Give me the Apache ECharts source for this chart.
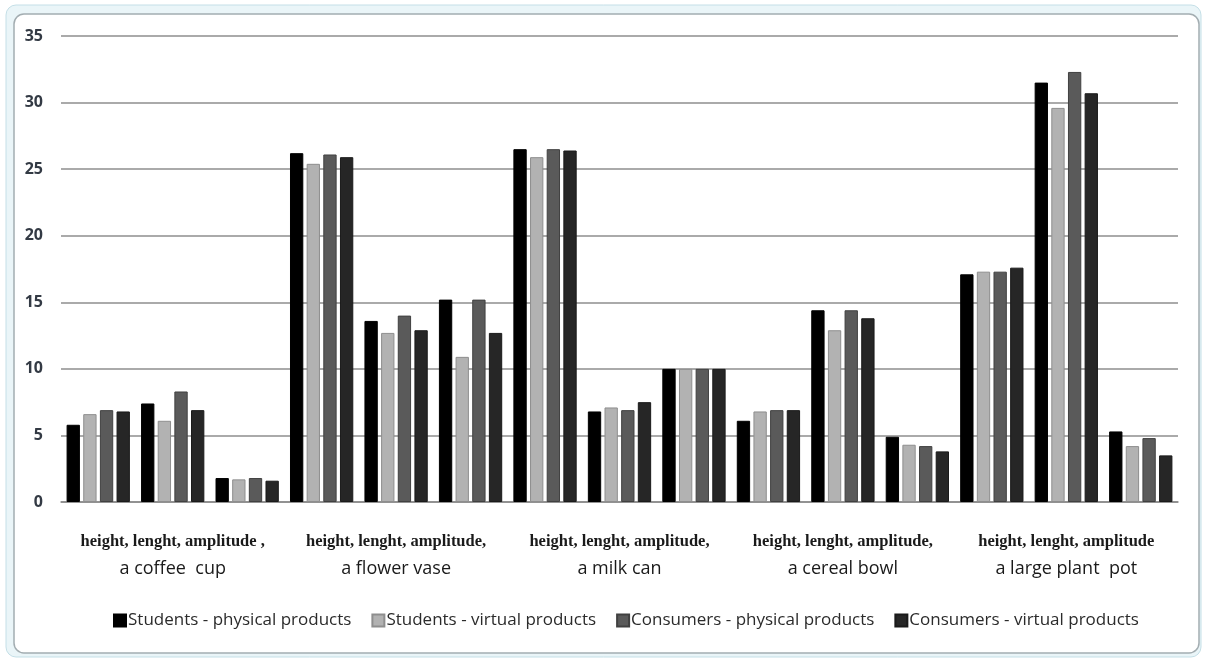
<!DOCTYPE html>
<html>
<head>
<meta charset="utf-8">
<title>Estimated dimensions by product</title>
<script src="https://cdn.jsdelivr.net/npm/echarts@6/dist/echarts.min.js"></script>
<style>
  html, body { margin: 0; padding: 0; background: #ffffff; }
  #chart { width: 1205px; height: 659px; }
</style>
</head>
<body>
<div id="chart"></div>
<script>
// Each product is measured on three dimensions
const dimensions = [
  'height', 'lenght', 'amplitude',
  'height', 'lenght', 'amplitude',
  'height', 'lenght', 'amplitude',
  'height', 'lenght', 'amplitude',
  'height', 'lenght', 'amplitude'
];
const products = ['a coffee  cup', 'a flower vase', 'a milk can', 'a cereal bowl', 'a large plant  pot'];
const productHeads = [
  'height, lenght, amplitude ,',
  'height, lenght, amplitude,',
  'height, lenght, amplitude,',
  'height, lenght, amplitude,',
  'height, lenght, amplitude'
];
const yTicks = [0, 5, 10, 15, 20, 25, 30, 35];

const seriesNames = [
  'Students - physical products',
  'Students - virtual products',
  'Consumers - physical products',
  'Consumers - virtual products'
];
const studentsPhysical  = [5.8, 7.4, 1.8, 26.2, 13.6, 15.2, 26.5, 6.8, 10.0, 6.1, 14.4, 4.9, 17.1, 31.5, 5.3];
const studentsVirtual   = [6.6, 6.1, 1.7, 25.4, 12.7, 10.9, 25.9, 7.1, 10.0, 6.8, 12.9, 4.3, 17.3, 29.6, 4.2];
const consumersPhysical = [6.9, 8.3, 1.8, 26.1, 14.0, 15.2, 26.5, 6.9, 10.0, 6.9, 14.4, 4.2, 17.3, 32.3, 4.8];
const consumersVirtual  = [6.8, 6.9, 1.6, 25.9, 12.9, 12.7, 26.4, 7.5, 10.0, 6.9, 13.8, 3.8, 17.6, 30.7, 3.5];

const seriesData = [studentsPhysical, studentsVirtual, consumersPhysical, consumersVirtual];
const seriesColors = ['#000000', '#b2b2b2', '#5a5a5a', '#262626'];
const seriesBorders = ['#000000', '#8e8e8e', '#404040', '#1a1a1a'];

const chart = echarts.init(document.getElementById('chart'), null, { renderer: 'canvas' });

const option = {
  animation: false,
  backgroundColor: '#ffffff',
  graphic: [
    {
      type: 'rect',
      silent: true,
      z: -10,
      shape: { x: 6, y: 5, width: 1195, height: 652, r: 10 },
      style: { fill: '#eaf5f8', stroke: '#c4dfe7', lineWidth: 1 }
    },
    {
      type: 'rect',
      silent: true,
      z: -9,
      shape: { x: 14, y: 14, width: 1185, height: 639, r: 10 },
      style: { fill: '#ffffff', stroke: '#a3adb1', lineWidth: 1.5 }
    }
  ],
  grid: { left: 61, right: 27, top: 36, bottom: 157, containLabel: false },
  legend: {
    bottom: 25,
    left: 108,
    itemWidth: 12,
    itemHeight: 12,
    itemGap: 20,
    icon: 'rect',
    textStyle: { fontFamily: 'Open Sans', fontSize: 17, color: '#2b2b2b', padding: [0, 0, 0, -3] },
    data: seriesNames
  },
  xAxis: [
    {
      type: 'category',
      data: dimensions,
      axisLine: { show: true, lineStyle: { color: '#8a8a8a', width: 1.5 } },
      axisTick: { show: false },
      axisLabel: { show: false },
      splitLine: { show: false }
    },
    {
      type: 'category',
      data: products,
      position: 'bottom',
      axisLine: { show: false },
      axisTick: { show: false },
      splitLine: { show: false },
      axisLabel: {
        margin: 26,
        interval: 0,
        formatter: function (value, idx) {
          return '{a|' + productHeads[idx] + '}\n{b|' + value + '}';
        },
        rich: {
          a: { fontFamily: 'Liberation Serif', fontSize: 16.5, color: '#1a1a1a', lineHeight: 27, fontWeight: 'bold' },
          b: { fontFamily: 'Open Sans', fontSize: 18, color: '#1a1a1a', lineHeight: 27 }
        }
      }
    }
  ],
  yAxis: {
    type: 'value',
    min: yTicks[0],
    max: yTicks[yTicks.length - 1],
    interval: 5,
    axisLine: { show: false },
    axisTick: { show: false },
    axisLabel: { margin: 18, fontFamily: 'Open Sans', fontWeight: 'bold', fontSize: 16, color: '#333a44' },
    splitLine: { show: true, lineStyle: { color: '#8e8e8e', width: 1.5 } }
  },
  series: seriesNames.map(function (name, i) {
    return {
      name: name,
      type: 'bar',
      xAxisIndex: 0,
      data: seriesData[i],
      barGap: '25%',
      barCategoryGap: '15%',
      itemStyle: { color: seriesColors[i], borderColor: seriesBorders[i], borderWidth: 1 }
    };
  })
};

chart.setOption(option);
</script>
</body>
</html>
